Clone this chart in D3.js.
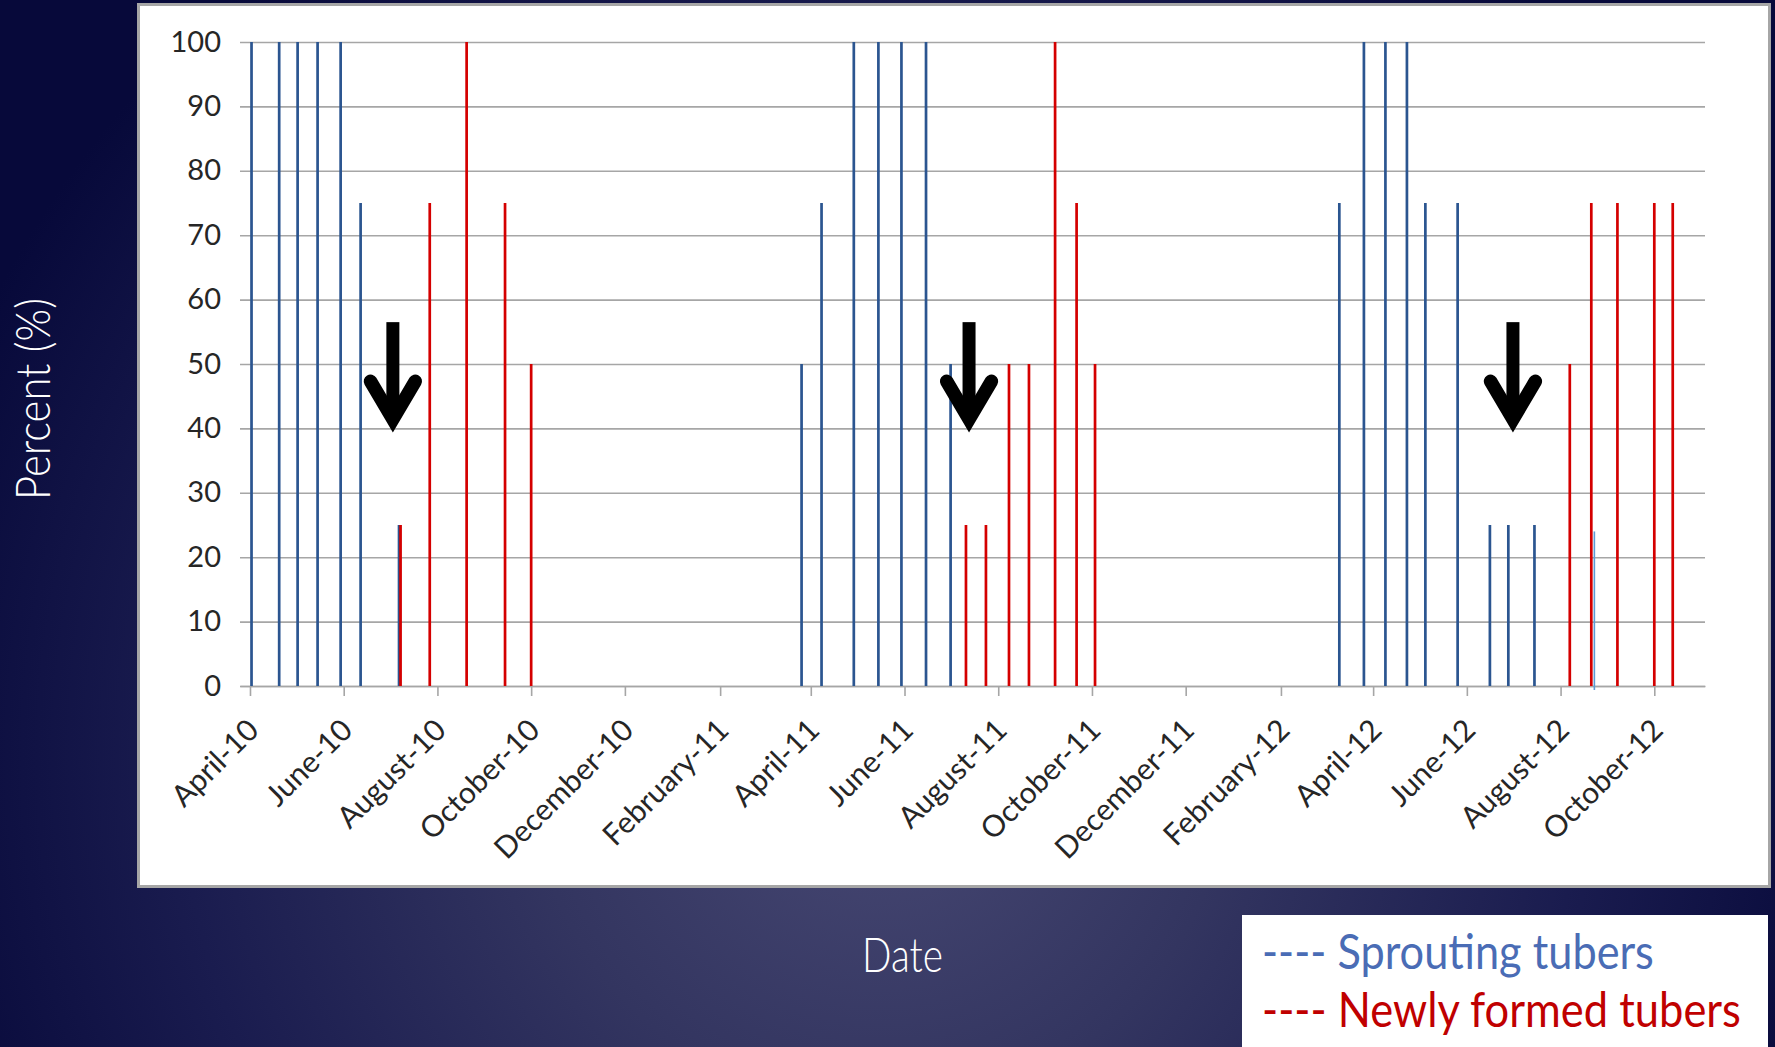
<!DOCTYPE html>
<html>
<head>
<meta charset="utf-8">
<script src="https://cdn.jsdelivr.net/npm/d3@7"></script>
<style>
  html, body { margin: 0; padding: 0; background: #0b0d3d; overflow: hidden; }
  svg { display: block; }
</style>
</head>
<body>
<svg id="chart" width="1775" height="1047"></svg>
<script>
// Sampling dates and percentages of sprouting tubers
const sproutDates = [
  "2010-04-02", "2010-04-20", "2010-05-02", "2010-05-15", "2010-05-30", "2010-06-12", "2010-07-07",
  "2011-03-26", "2011-04-08", "2011-04-29", "2011-05-15", "2011-05-30", "2011-06-15", "2011-07-01",
  "2012-03-10", "2012-03-26", "2012-04-09", "2012-04-23", "2012-05-05", "2012-05-26", "2012-06-16", "2012-06-28", "2012-07-15"
];
const sproutValues = [
  100, 100, 100, 100, 100, 75, 25,
  50, 75, 100, 100, 100, 100, 50,
  75, 100, 100, 100, 75, 75, 25, 25, 25
];

// Sampling dates and percentages of newly formed tubers
const newDates = [
  "2010-07-08", "2010-07-27", "2010-08-20", "2010-09-14", "2010-10-01",
  "2011-07-11", "2011-07-24", "2011-08-08", "2011-08-21", "2011-09-07", "2011-09-21", "2011-10-03",
  "2012-08-07", "2012-08-21", "2012-09-07", "2012-10-01", "2012-10-13"
];
const newValues = [
  25, 75, 100, 75, 50,
  25, 25, 50, 50, 100, 75, 50,
  50, 75, 75, 75, 75
];

// Single thin marker line in 2012
const markerDates = ["2012-08-23"];
const markerValues = [24];

// Arrows marking the switch from sprouting to tuber formation
const arrowDates = ["2010-07-03", "2011-07-13", "2012-07-01"];
const arrowTop = 56.5;
const arrowTip = 39.4;

// Axis ticks
const tickDates = [
  "2010-04-01", "2010-06-01", "2010-08-01", "2010-10-01", "2010-12-01", "2011-02-01",
  "2011-04-01", "2011-06-01", "2011-08-01", "2011-10-01", "2011-12-01", "2012-02-01",
  "2012-04-01", "2012-06-01", "2012-08-01", "2012-10-01"
];
const tickLabels = [
  "April-10", "June-10", "August-10", "October-10", "December-10", "February-11",
  "April-11", "June-11", "August-11", "October-11", "December-11", "February-12",
  "April-12", "June-12", "August-12", "October-12"
];
const yTicks = [0, 10, 20, 30, 40, 50, 60, 70, 80, 90, 100];

const parse = d3.utcParse("%Y-%m-%d");
const svg = d3.select("#chart");

// Slide background
const defs = svg.append("defs");
const grad = defs.append("radialGradient")
  .attr("id", "slideBg")
  .attr("gradientUnits", "userSpaceOnUse")
  .attr("cx", 880).attr("cy", 760).attr("r", 1000);
grad.append("stop").attr("offset", 0).attr("stop-color", "#484974");
grad.append("stop").attr("offset", 0.35).attr("stop-color", "#333560");
grad.append("stop").attr("offset", 0.7).attr("stop-color", "#1a1c4f");
grad.append("stop").attr("offset", 1).attr("stop-color", "#07093a");
svg.append("rect").attr("width", 1775).attr("height", 1047).attr("fill", "url(#slideBg)");

// Chart panel
svg.append("rect")
  .attr("x", 138.5).attr("y", 4.5)
  .attr("width", 1631).attr("height", 882)
  .attr("fill", "#ffffff")
  .attr("stroke", "#a6a6a6").attr("stroke-width", 3);

const x = d3.scaleUtc()
  .domain([new Date(Date.UTC(2010, 2, 25, 12)), new Date(Date.UTC(2012, 10, 3))])
  .range([240, 1705]);
const y = d3.scaleLinear().domain([0, 100]).range([686, 42]);

const font = "Lato, 'Open Sans', sans-serif";

// Horizontal gridlines with value labels
const yAxis = svg.append("g")
  .attr("transform", `translate(${x.range()[0]},0)`)
  .call(d3.axisLeft(y).tickValues(yTicks)
    .tickSize(-(x.range()[1] - x.range()[0]))
    .tickPadding(19));
yAxis.select(".domain").remove();
yAxis.selectAll(".tick line").attr("stroke", "#a6a6a6").attr("stroke-width", 1.6);
yAxis.selectAll(".tick text")
  .attr("dy", null).attr("y", 9)
  .attr("fill", "#262626")
  .style("font-family", font).style("font-size", "29px");

// Date axis
const xAxis = svg.append("g")
  .attr("transform", `translate(0,${y(0)})`)
  .call(d3.axisBottom(x)
    .tickValues(tickDates.map(parse))
    .tickSize(10).tickSizeOuter(0)
    .tickFormat((d, i) => tickLabels[i]));
xAxis.select(".domain").attr("stroke", "#a6a6a6").attr("stroke-width", 1.6);
xAxis.selectAll(".tick line").attr("stroke", "#a6a6a6").attr("stroke-width", 1.6);
xAxis.selectAll(".tick text")
  .attr("x", 0).attr("y", 0).attr("dy", null)
  .attr("text-anchor", "end")
  .attr("transform", "translate(10,46) rotate(-45)")
  .attr("fill", "#262626")
  .style("font-family", font).style("font-size", "30px");

// Vertical spikes for each series
function spikes(dates, values, color, width) {
  svg.append("g").selectAll("rect")
    .data(dates.map((d, i) => ({ date: parse(d), value: values[i] })))
    .join("rect")
    .attr("x", d => x(d.date) - width / 2)
    .attr("y", d => y(d.value))
    .attr("width", width)
    .attr("height", d => y(0) - y(d.value))
    .attr("fill", color);
}
spikes(sproutDates, sproutValues, "#2b5590", 2.7);
spikes(newDates, newValues, "#d40000", 2.7);

// Thin marker line, running slightly below the axis
svg.append("g").selectAll("line")
  .data(markerDates.map((d, i) => ({ date: parse(d), value: markerValues[i] })))
  .join("line")
  .attr("x1", d => x(d.date)).attr("x2", d => x(d.date))
  .attr("y1", d => y(d.value)).attr("y2", y(0) + 4)
  .attr("stroke", "#5b9bd5").attr("stroke-width", 1.6);

// Down arrows
const arrows = svg.append("g").selectAll("g")
  .data(arrowDates.map(parse))
  .join("g");
arrows.append("rect")
  .attr("x", d => x(d) - 6.5)
  .attr("y", y(arrowTop))
  .attr("width", 13)
  .attr("height", (y(arrowTip) - 13) - y(arrowTop))
  .attr("fill", "#000");
arrows.append("path")
  .attr("d", d => {
    const cx = x(d), tip = y(arrowTip);
    return `M${cx - 22.4},${tip - 51}L${cx},${tip - 13}L${cx + 22.4},${tip - 51}`;
  })
  .attr("fill", "none")
  .attr("stroke", "#000")
  .attr("stroke-width", 13.5)
  .attr("stroke-linecap", "round")
  .attr("stroke-linejoin", "miter");

// Condensed slide text: measure the natural width, then squeeze it
// horizontally to the wanted width.
function condensedText(str, base, width, size, weight, color) {
  const t = svg.append("text")
    .attr("x", 0).attr("y", 0)
    .attr("fill", color)
    .style("font-family", font).style("font-weight", weight).style("font-size", size + "px")
    .text(str);
  const natural = t.node().getComputedTextLength();
  t.attr("transform", `${base} scale(${width / natural},1)`);
  return t;
}

// Axis titles
condensedText("Date", "translate(862,972)", 81, 48, 300, "#ffffff");
condensedText("Percent (%)", "translate(50,500) rotate(-90)", 202, 47, 300, "#ffffff");

// Legend box
svg.append("rect")
  .attr("x", 1242).attr("y", 915)
  .attr("width", 526).attr("height", 132)
  .attr("fill", "#ffffff");
condensedText("---- Sprouting tubers", "translate(1262,969)", 392, 48, 400, "#4a6cb5");
condensedText("---- Newly formed tubers", "translate(1262,1027)", 479, 48, 400, "#c00000");
</script>
</body>
</html>
